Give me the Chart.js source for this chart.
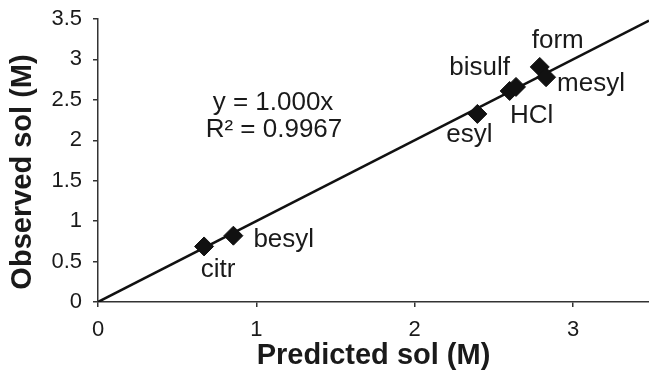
<!DOCTYPE html>
<html>
<head>
<meta charset="utf-8">
<script src="https://cdn.jsdelivr.net/npm/chart.js@4"></script>
<style>
  html, body { margin: 0; padding: 0; background: #fff; }
  #wrap { width: 649px; height: 377px; position: relative; }
</style>
</head>
<body>
<div id="wrap"><canvas id="c" width="649" height="377"></canvas></div>
<script>
// ---- data ----
const saltNames = ['citr', 'besyl', 'esyl', 'HCl', 'bisulf', 'form', 'mesyl'];
const predictedSol = [0.67, 0.855, 2.396, 2.60, 2.64, 2.79, 2.83];
const observedSol = [0.687, 0.82, 2.326, 2.61, 2.66, 2.907, 2.78];
const trendSlope = 1.000;
const trendX = [0, 3.48];
const equationLines = ['y = 1.000x', 'R\u00B2 = 0.9967'];
const xTicks = [0, 1, 2, 3];
const yTicks = [0, 0.5, 1, 1.5, 2, 2.5, 3, 3.5];
const xTitle = 'Predicted sol (M)';
const yTitle = 'Observed sol (M)';

// ---- styles ----
const FONT = '"Liberation Sans", Arial, Helvetica, sans-serif';
const TEXT = '#1a1a1a';
const AXIS = '#333333';
// label placement relative to each point: [dx, dyBaseline, align]
const labelPlace = {
  citr: [14, 31, 'center'],
  besyl: [20, 11, 'left'],
  esyl: [-8, 28, 'center'],
  HCl: [22, 32, 'center'],
  bisulf: [-6, -12, 'right'],
  form: [18, -19, 'center'],
  mesyl: [11, 14, 'left']
};

const points = predictedSol.map((x, i) => ({ x: x, y: observedSol[i] }));
const trend = trendX.map(x => ({ x: x, y: trendSlope * x }));

const annotate = {
  id: 'annotate',
  afterDatasetsDraw(chart) {
    const ctx = chart.ctx;
    const xs = chart.scales.x, ys = chart.scales.y;
    ctx.save();
    ctx.fillStyle = TEXT;
    ctx.font = '26px ' + FONT;
    ctx.textBaseline = 'alphabetic';
    saltNames.forEach((n, i) => {
      const px = xs.getPixelForValue(predictedSol[i]);
      const py = ys.getPixelForValue(observedSol[i]);
      const p = labelPlace[n];
      ctx.textAlign = p[2];
      ctx.fillText(n, px + p[0], py + p[1]);
    });
    // regression equation
    ctx.font = '26px ' + FONT;
    ctx.textAlign = 'center';
    ctx.fillText(equationLines[0], 273, 110);
    ctx.fillText(equationLines[1], 274, 137);
    // y axis title
    ctx.font = 'bold 29px ' + FONT;
    ctx.translate(23, 172);
    ctx.rotate(-Math.PI / 2);
    ctx.textAlign = 'center';
    ctx.textBaseline = 'middle';
    ctx.fillText(yTitle, 0, 0);
    ctx.restore();
  }
};

new Chart(document.getElementById('c'), {
  type: 'scatter',
  data: {
    datasets: [
      {
        type: 'line',
        data: trend,
        borderColor: '#111',
        borderWidth: 2.5,
        pointRadius: 0,
        fill: false,
        clip: 0,
        order: 2
      },
      {
        data: points,
        pointStyle: 'rectRot',
        pointRadius: 9.5,
        pointBackgroundColor: '#111',
        pointBorderColor: '#111',
        pointBorderWidth: 1,
        order: 1
      }
    ]
  },
  options: {
    responsive: false,
    animation: false,
    events: [],
    layout: { autoPadding: false, padding: { top: 19, right: 0, left: 0, bottom: 0 } },
    plugins: { legend: { display: false }, tooltip: { enabled: false }, title: { display: false } },
    scales: {
      x: {
        type: 'linear',
        min: 0,
        max: trendX[1],
        afterFit(s) { s.height = 75; s.paddingLeft = 0; s.paddingRight = 0; },
        afterBuildTicks(s) { s.ticks = xTicks.map(v => ({ value: v })); },
        border: { display: true, color: AXIS, width: 1.5 },
        grid: { display: true, drawOnChartArea: false, drawTicks: true, tickLength: 5, color: AXIS, lineWidth: 1.5 },
        ticks: { color: TEXT, font: { family: FONT, size: 22 }, padding: 10, maxRotation: 0, includeBounds: false,
                 callback: v => String(v) },
        title: { display: true, text: xTitle, color: TEXT, font: { family: FONT, size: 29, weight: 'bold' },
                 padding: { top: 0, bottom: 4 } }
      },
      y: {
        type: 'linear',
        min: 0,
        max: 3.5,
        afterFit(s) { s.width = 98; s.paddingTop = 0; s.paddingBottom = 0; },
        afterBuildTicks(s) { s.ticks = yTicks.map(v => ({ value: v })); },
        border: { display: true, color: AXIS, width: 1.5 },
        grid: { display: true, drawOnChartArea: false, drawTicks: true, tickLength: 5, color: AXIS, lineWidth: 1.5 },
        ticks: { color: TEXT, font: { family: FONT, size: 22 }, padding: 11,
                 callback: v => String(v) }
      }
    }
  },
  plugins: [annotate]
});
</script>
</body>
</html>
